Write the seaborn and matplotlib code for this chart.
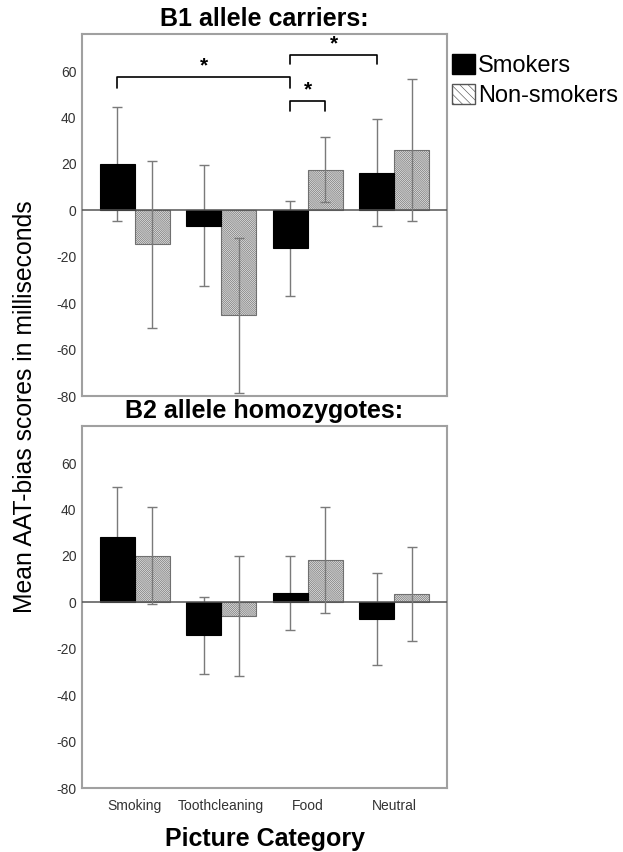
import matplotlib
matplotlib.use("Agg")
import matplotlib.pyplot as plt
from matplotlib.patches import Patch
import pandas as pd
import seaborn as sns

# --- data ---------------------------------------------------------------
categories = ["Smoking", "Toothcleaning", "Food", "Neutral"]
groups = ["Smokers", "Non-smokers"]

# B1 allele carriers
b1_smokers = [20.0, -6.6, -16.4, 16.3]
b1_smokers_err = [24.4, 26.0, 20.5, 23.0]
b1_nonsmokers = [-14.7, -45.3, 17.6, 25.9]
b1_nonsmokers_err = [35.8, 33.5, 14.2, 30.6]

# B2 allele homozygotes
b2_smokers = [28.2, -14.2, 4.0, -7.0]
b2_smokers_err = [21.5, 16.6, 16.0, 19.8]
b2_nonsmokers = [20.1, -6.0, 18.4, 3.75]
b2_nonsmokers_err = [20.8, 25.8, 22.8, 20.2]

# significance brackets in B1 panel: (left bar, right bar, height, leg drop)
# bar given as (group index, category index)
b1_brackets = [
    ((0, 0), (0, 2), 57.4, 4.8),
    ((0, 2), (0, 3), 67.0, 4.0),
    ((0, 2), (1, 2), 47.0, 4.2),
]

yticks = [-80, -60, -40, -20, 0, 20, 40, 60]

SPINE = "#a0a0a0"
ERR = "#7a7a7a"
HATCH_FILL = "#e2e2e2"


def make_frame(smk, non):
    rows = []
    for cat, v in zip(categories, smk):
        rows.append({"category": cat, "group": groups[0], "value": v})
    for cat, v in zip(categories, non):
        rows.append({"category": cat, "group": groups[1], "value": v})
    return pd.DataFrame(rows)


def draw_panel(ax, smk, smk_err, non, non_err, title, show_x):
    df = make_frame(smk, non)
    sns.barplot(
        data=df, x="category", y="value", hue="group", order=categories,
        hue_order=groups, palette=["black", HATCH_FILL], width=0.81,
        errorbar=None, saturation=1, legend=False, ax=ax,
    )
    centers = []
    for gi, (cont, errs) in enumerate(zip(ax.containers, [smk_err, non_err])):
        xs = []
        for p in cont.patches:
            xs.append(p.get_x() + p.get_width() / 2)
            p.set_linewidth(0.8)
            if gi == 0:
                p.set_edgecolor("black")
                p.set_zorder(3)
            else:
                p.set_hatch("\\" * 16)
                p.set_edgecolor("#707070")
                p.set_zorder(2)
        vals = [p.get_height() for p in cont.patches]
        # smokers' whiskers sit under the black bars, non-smokers' on top
        ax.errorbar(xs, vals, yerr=errs, fmt="none", ecolor=ERR,
                    elinewidth=1.0, capsize=3.5, capthick=1.0,
                    zorder=2.5 if gi == 0 else 5)
        centers.append(xs)

    ax.axhline(0, color="#555555", lw=1.1, zorder=4)
    ax.set_xlim(-0.61, 3.61)
    ax.set_ylim(-80, 76)
    ax.set_yticks(yticks)
    ax.set_yticklabels([str(t) for t in yticks], fontsize=10, color="#333333")
    ax.tick_params(axis="y", direction="out", length=3, width=1, color=SPINE, pad=1)
    if show_x:
        ax.tick_params(axis="x", direction="out", length=4, width=1,
                       color=SPINE, labelsize=10, labelcolor="#333333", pad=4)
    else:
        ax.tick_params(axis="x", length=0, labelbottom=False)
    ax.set_xlabel("")
    ax.set_ylabel("")
    for s in ax.spines.values():
        s.set_visible(True)
        s.set_color(SPINE)
        s.set_linewidth(1.5)
    ax.set_title(title, fontsize=18, fontweight="bold", pad=6, color="black")
    ax.grid(False)
    return centers


sns.set_theme(style="white")
plt.rcParams["font.family"] = ["Liberation Sans", "DejaVu Sans"]
plt.rcParams["hatch.color"] = "#8c8c8c"
plt.rcParams["hatch.linewidth"] = 0.45

fig = plt.figure(figsize=(6.23, 8.52), dpi=100)
ax_top = fig.add_axes([0.1316, 0.5352, 0.586, 0.4249])
ax_bot = fig.add_axes([0.1316, 0.0751, 0.586, 0.4249])

centers = draw_panel(ax_top, b1_smokers, b1_smokers_err, b1_nonsmokers,
                     b1_nonsmokers_err, "B1 allele carriers:", False)
draw_panel(ax_bot, b2_smokers, b2_smokers_err, b2_nonsmokers,
           b2_nonsmokers_err, "B2 allele homozygotes:", True)

# significance brackets
for (g1, c1), (g2, c2), h, drop in b1_brackets:
    x1 = centers[g1][c1]
    x2 = centers[g2][c2]
    ax_top.plot([x1, x1, x2, x2], [h - drop, h, h, h - drop],
                color="black", lw=1.2, zorder=6)
    ax_top.text((x1 + x2) / 2, h + 0.8, "*", ha="center", va="bottom",
                fontsize=15, fontweight="bold", color="black")

ax_bot.set_xlabel("Picture Category", fontsize=18, fontweight="bold",
                  labelpad=10, color="black")
fig.text(0.04, 0.523, "Mean AAT-bias scores in milliseconds", rotation=90,
         ha="center", va="center", fontsize=17.8, color="black")

handles = [
    Patch(facecolor="black", edgecolor="black"),
    Patch(facecolor="white", edgecolor="#555555", hatch="\\\\\\\\"),
]
leg = fig.legend(handles, groups, loc="upper left", bbox_to_anchor=(0.726, 0.937),
                 frameon=False, fontsize=17, handlelength=0.95, handleheight=0.95,
                 handletextpad=0.15, labelspacing=0.28, borderpad=0, borderaxespad=0)
for t in leg.get_texts():
    t.set_color("black")

fig.savefig("out.png", dpi=100)
